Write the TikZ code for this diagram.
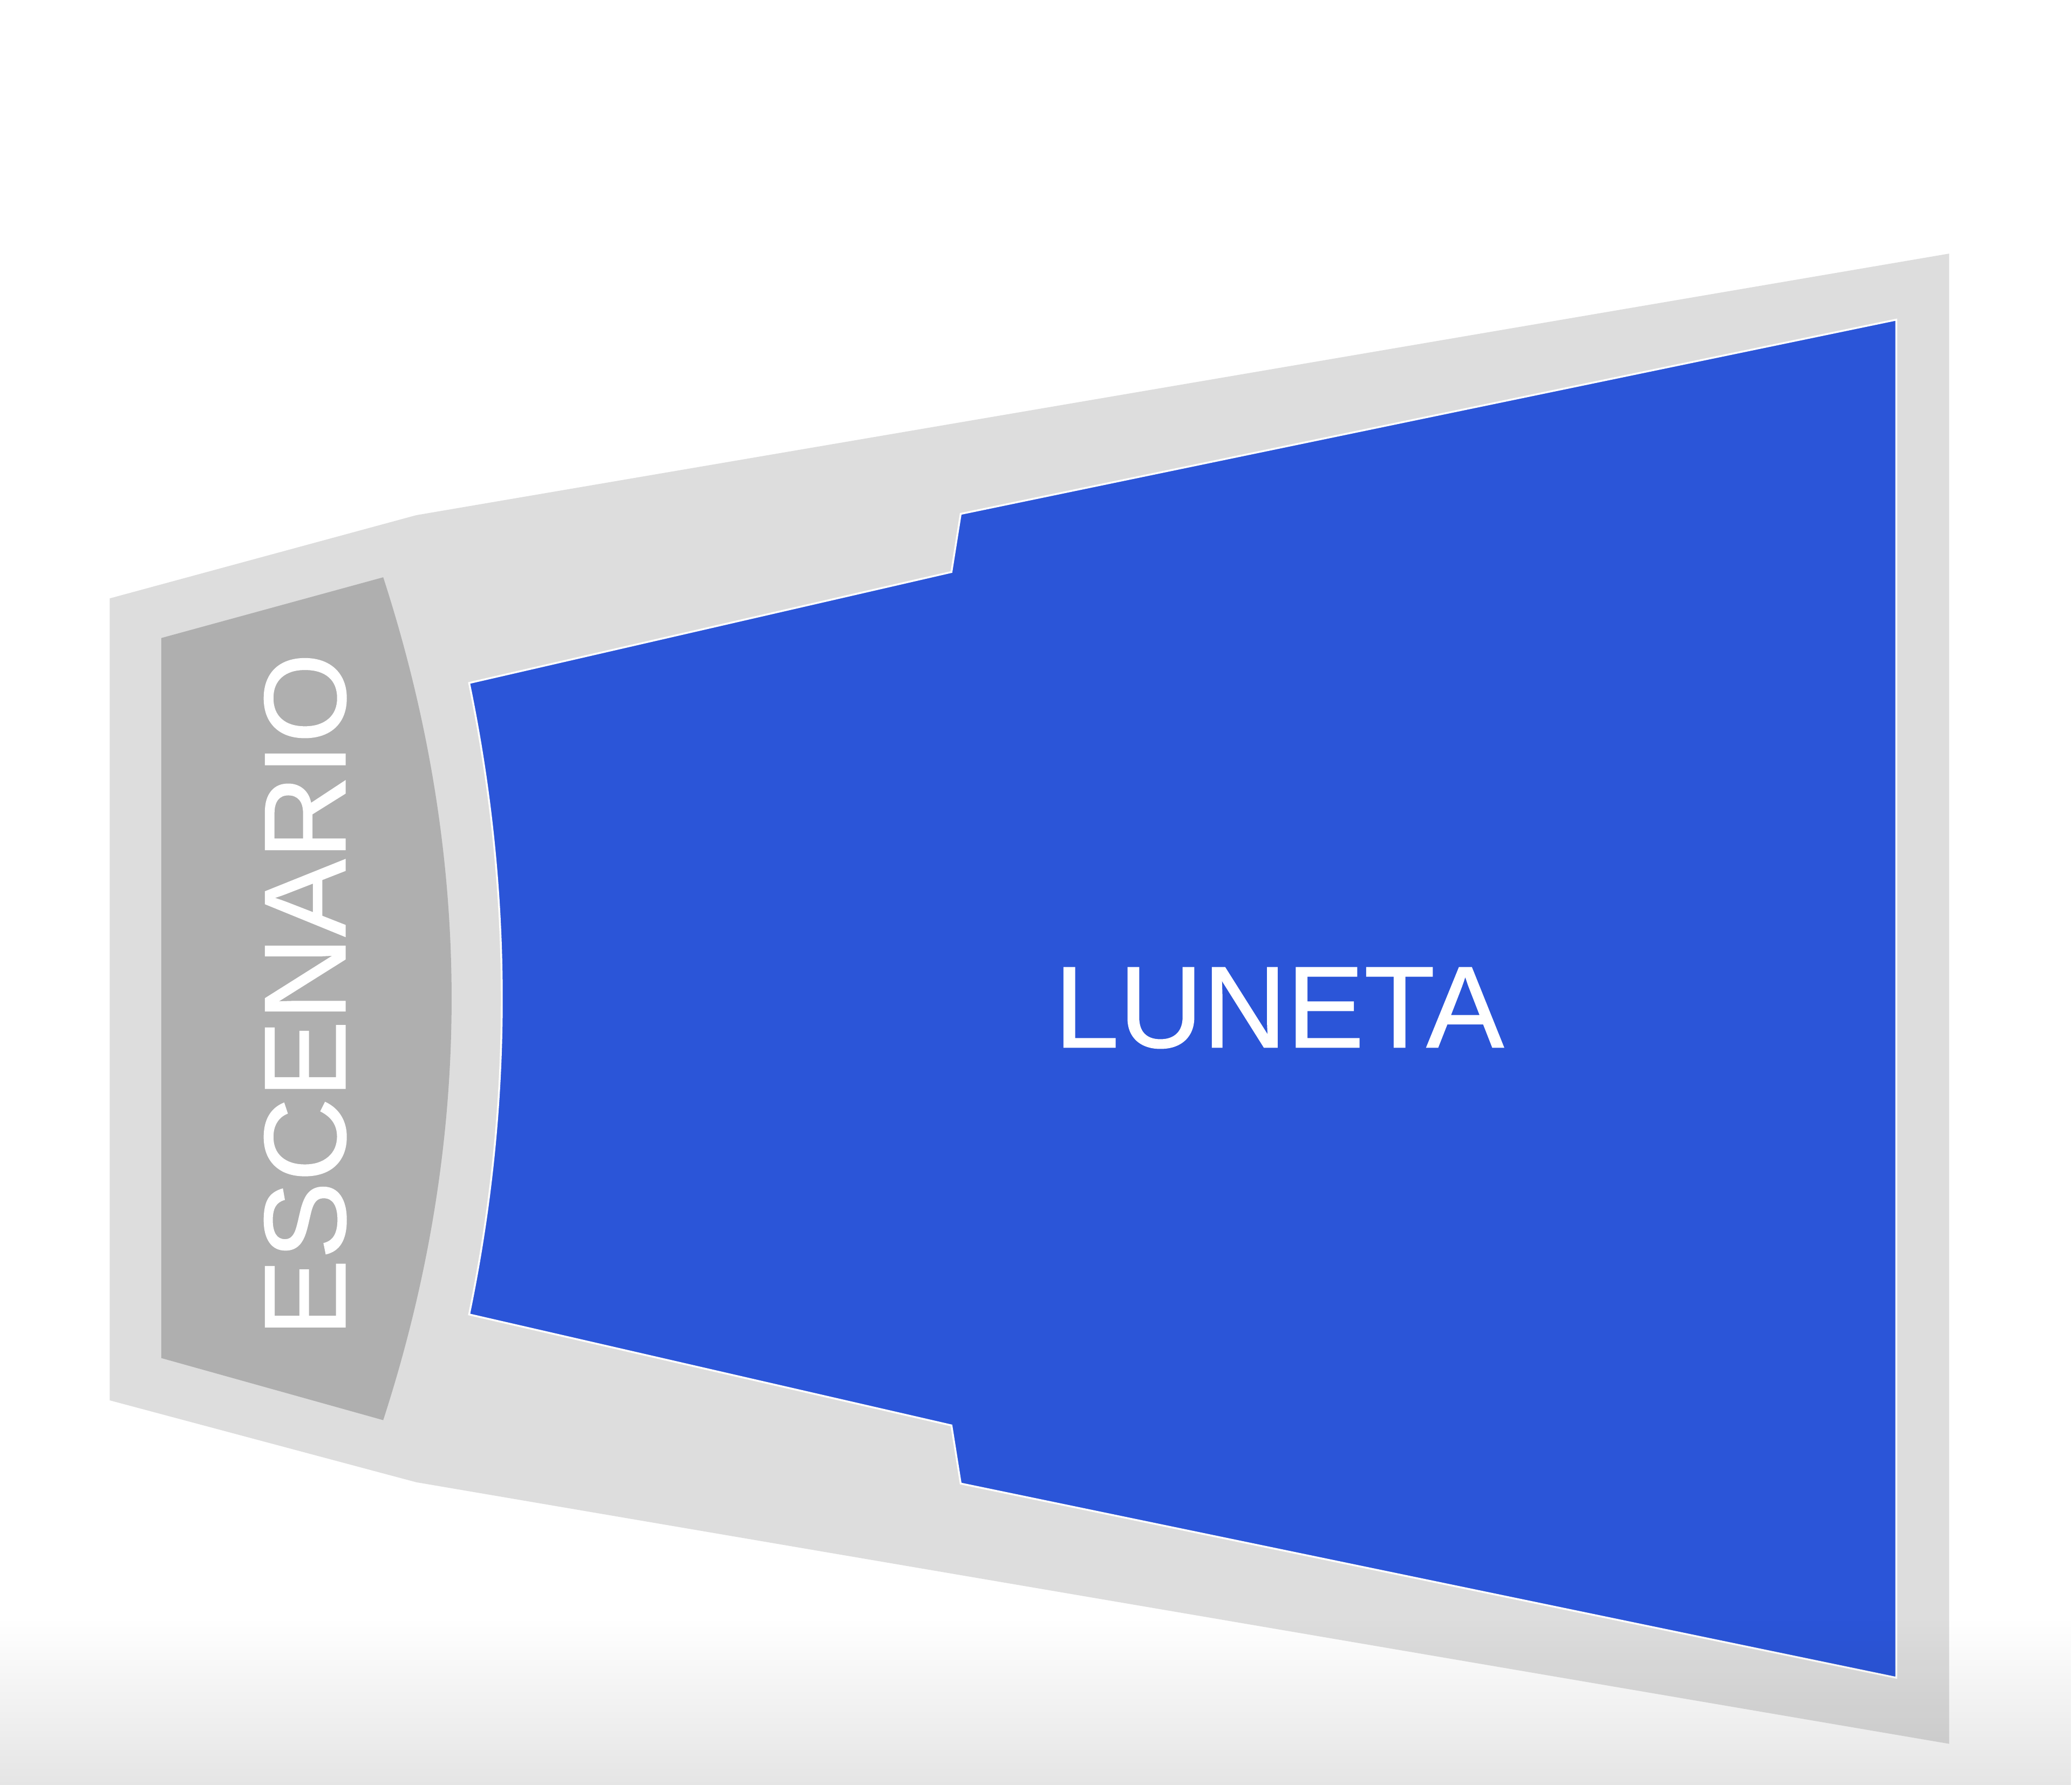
\documentclass[tikz,border=0pt]{standalone}
\usepackage{fontspec}
\setmainfont{Liberation Sans}
\newfontfamily\zonefont[FakeBold=0.8]{Liberation Sans}
\usepackage{tikz}
\usepackage{xcolor}
\usetikzlibrary{fadings, positioning, calc}

\definecolor{hallgray}{HTML}{DDDDDD}
\definecolor{stagegray}{HTML}{AFAFAF}
\definecolor{lunetablue}{HTML}{2B55D8}
\tikzfading[name=fadebottom, top color=transparent!100, bottom color=transparent!0]

\begin{document}
\begin{tikzpicture}[x=0.1mm, y=-0.1mm,
    zonelabel/.style={text=white, font=\zonefont\fontsize{25}{29}\selectfont, inner sep=0pt}]
    \useasboundingbox (0,0) rectangle (1568,1351);
    \fill[white] (0,0) rectangle (1568,1351);

    % Draw the hall outline
    \fill[hallgray] (83,453) -- (315,390) -- (1475,192) -- (1475,1320)
        -- (315,1122) -- (83,1060) -- cycle;

    % Stage
    \fill[stagegray] (122,483) -- (290,437)
        .. controls (359,650) and (359,862) .. (290,1075)
        -- (122,1028) -- cycle;
    \node[zonelabel, rotate=90] (escenario) at (231,753) {ESCENARIO};

    % Seating area
    \fill[lunetablue, draw=white, line width=0.4pt] (355,517) -- (720,433) -- (727,389)
        -- (1435,242) -- (1435,1270) -- (727,1123) -- (720,1079) -- (355,995)
        .. controls (388,836) and (388,676) .. cycle;
    \node[zonelabel] (luneta) at (968,763) {LUNETA};

    % Fade at the bottom edge
    \fill[black, path fading=fadebottom, fill opacity=0.1] (0,1225) rectangle (1568,1351);
\end{tikzpicture}
\end{document}
